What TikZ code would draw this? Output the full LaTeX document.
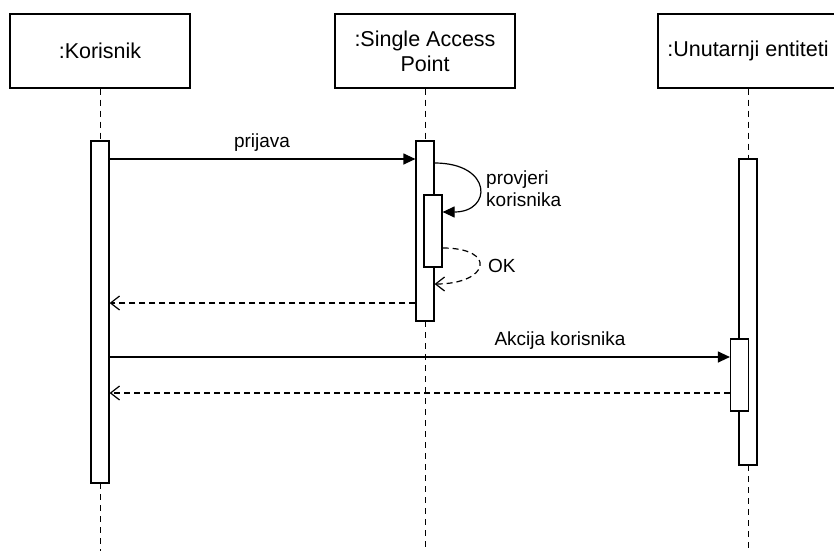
\documentclass[tikz,border=0pt]{standalone}
\usepackage{fontspec}
\setmainfont{Liberation Sans}
\usetikzlibrary{arrows.meta}
\begin{document}
\begin{tikzpicture}[x=1pt,y=-1pt,
  head/.style={draw, line width=1.2pt, fill=white, minimum width=180pt, minimum height=74pt, inner sep=0pt, align=center, font=\fontsize{21.5}{25}\selectfont},
  bar/.style={draw, line width=1.2pt, fill=white, minimum width=18pt, inner sep=0pt},
  life/.style={line width=1pt, dash pattern=on 6pt off 5pt},
  msg/.style={line width=1.2pt, -{Triangle[length=12pt,width=11pt]}},
  ret/.style={line width=1.2pt, dash pattern=on 6pt off 4pt, -{Straight Barb[length=9pt,width=14pt]}},
  lbl/.style={inner sep=0pt, font=\fontsize{19}{22}\selectfont}]
\useasboundingbox (0,0) rectangle (834,551);
\clip (0,0) rectangle (834,551);
\fill[white] (0,0) rectangle (834,551);
% headers
\node[head] (kor) at (100,51) {:Korisnik};
\node[head] (sap) at (425,51) {:Single Access\\Point};
\node[head] (ue) at (748,51) {:Unutarnji entiteti};
% bottom ends of lifelines
\coordinate (korend) at (100,551);
\coordinate (sapend) at (425,551);
\coordinate (ueend) at (748,551);
% lifelines
\draw[life] (kor.south) -- (100,141);
\draw[life] (sap.south) -- (425,141);
\draw[life] (ue.south) -- (748,159);
\draw[life] (100,483) -- (korend);
\draw[life] (425,321) -- (sapend);
\draw[life] (748,465) -- (ueend);
% activation bars
\node[bar, minimum height=342pt] (korbar) at (100,312) {};
\node[bar, minimum height=180pt] (sapbar) at (425,231) {};
\node[bar, minimum height=72pt] (sapin) at (433,231) {};
\node[bar, minimum height=306pt] (uebar) at (748,312) {};
\node[bar, minimum height=72pt] (uein) at (739.5,375) {};
% message levels
\coordinate (yprij) at (0,159);
\coordinate (yprov) at (0,163);
\coordinate (yprovend) at (0,212);
\coordinate (yok) at (0,248);
\coordinate (yokend) at (0,284);
\coordinate (yret1) at (0,303);
\coordinate (yakc) at (0,357);
\coordinate (yret2) at (0,393);
% messages
\draw[msg] (korbar.east |- yprij) -- (sapbar.west |- yprij);
\node[lbl] (lprij) at (262,143) {prijava};
\draw[msg] (sapbar.east |- yprov) .. controls +(58,0) and +(50,0) .. (sapin.east |- yprovend);
\node[lbl, anchor=west, align=left] (lprov) at (486,189) {provjeri\\korisnika};
\draw[ret] (sapin.east |- yok) .. controls +(55,0) and +(55,0) .. (sapbar.east |- yokend);
\node[lbl, anchor=west] (lok) at (488,266) {OK};
\draw[ret] (sapbar.west |- yret1) -- (korbar.east |- yret1);
\draw[msg] (korbar.east |- yakc) -- (uein.west |- yakc);
\node[lbl] (lakc) at (560,341) {Akcija korisnika};
\draw[ret] (uein.west |- yret2) -- (korbar.east |- yret2);
\end{tikzpicture}
\end{document}
